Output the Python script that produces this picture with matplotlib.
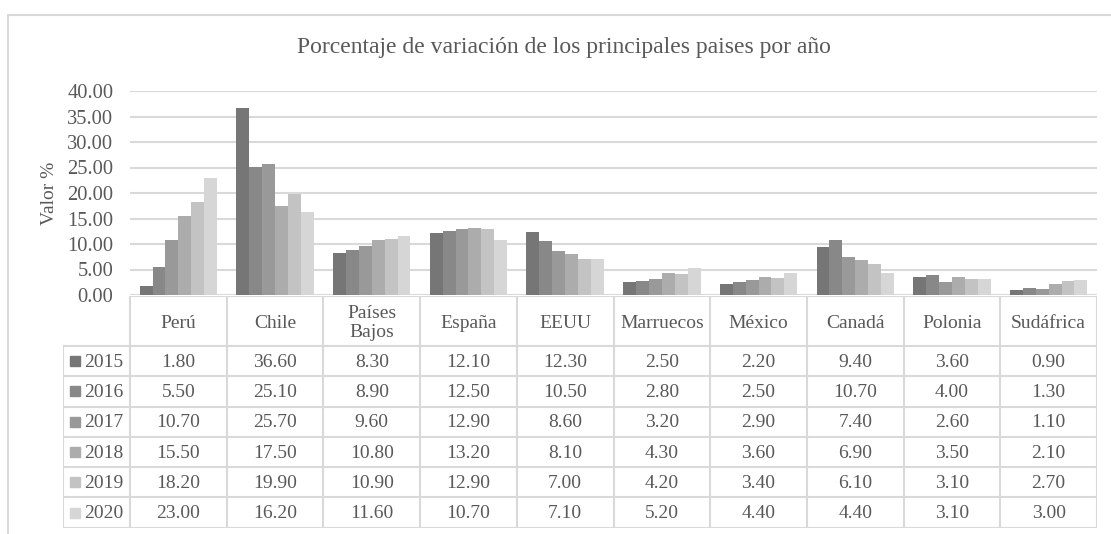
import numpy as np
import matplotlib
matplotlib.use("Agg")
import matplotlib.pyplot as plt
from matplotlib.patches import Rectangle

# data
paises = ["Perú", "Chile", "Países\nBajos", "España", "EEUU", "Marruecos",
          "México", "Canadá", "Polonia", "Sudáfrica"]
anios = ["2015", "2016", "2017", "2018", "2019", "2020"]
v2015 = [1.80, 36.60, 8.30, 12.10, 12.30, 2.50, 2.20, 9.40, 3.60, 0.90]
v2016 = [5.50, 25.10, 8.90, 12.50, 10.50, 2.80, 2.50, 10.70, 4.00, 1.30]
v2017 = [10.70, 25.70, 9.60, 12.90, 8.60, 3.20, 2.90, 7.40, 2.60, 1.10]
v2018 = [15.50, 17.50, 10.80, 13.20, 8.10, 4.30, 3.60, 6.90, 3.50, 2.10]
v2019 = [18.20, 19.90, 10.90, 12.90, 7.00, 4.20, 3.40, 6.10, 3.10, 2.70]
v2020 = [23.00, 16.20, 11.60, 10.70, 7.10, 5.20, 4.40, 4.40, 3.10, 3.00]
yticks = [0, 5, 10, 15, 20, 25, 30, 35, 40]

series = [v2015, v2016, v2017, v2018, v2019, v2020]
colores = ["#767676", "#888888", "#999999", "#acacac", "#c3c3c3", "#d6d6d6"]
txt = "#595959"
grid = "#d9d9d9"

plt.rcParams['font.family'] = ['Liberation Serif', 'DejaVu Serif']

W, H = 1111, 534
fig = plt.figure(figsize=(W / 100, H / 100), dpi=100)

def px(x0, y0, x1, y1):
    # pixel box (top-left origin) -> figure fraction
    return [x0 / W, 1 - y1 / H, (x1 - x0) / W, (y1 - y0) / H]

# outer border
fig.patches.append(Rectangle((8 / W, -0.1), 1.2, 1 - 15 / H + 0.1, transform=fig.transFigure,
                             fill=False, edgecolor=grid, lw=1.5))

fig.text(564 / W, 1 - 48 / H, "Porcentaje de variación de los principales paises por año",
         ha="center", va="center", fontsize=17, color=txt)

# bar chart
ax = fig.add_axes(px(130, 91, 1097, 295))
n = len(paises)
x = np.arange(n)
bw = 0.8 / len(series)
for i, vals in enumerate(series):
    ax.bar(x - 0.4 + bw * (i + 0.5), vals, width=bw, color=colores[i], zorder=3)
ax.set_xlim(-0.5, n - 0.5)
ax.set_ylim(0, 40)
ax.set_yticks(yticks)
ax.set_yticklabels(["%.2f" % t for t in yticks])
ax.tick_params(axis="y", length=0, labelsize=14.8, labelcolor=txt, pad=12)
ax.set_xticks([])
ax.grid(axis="y", color=grid, lw=1.5, zorder=0)
for s in ax.spines.values():
    s.set_visible(False)
fig.text(49 / W, 1 - 193 / H, "Valor %", rotation=90, ha="center", va="center",
         fontsize=14, color=txt)

# data table below the plot
leg_w = 67 / 96.7
head_h = 50
row_h = 30.3
tab_h = head_h + row_h * len(anios)
tx = fig.add_axes(px(63, 296, 1097, 296 + tab_h))
tx.set_xlim(-0.5 - leg_w, n - 0.5)
tx.set_ylim(tab_h, 0)
tx.axis("off")

lk = dict(color=grid, lw=1.5, solid_capstyle="butt")
tx.plot([-0.5, n - 0.5], [0, 0], **lk)
for k in range(n + 1):
    tx.plot([k - 0.5, k - 0.5], [0, tab_h], **lk)
for r in range(len(anios) + 1):
    yy = head_h + r * row_h
    tx.plot([-0.5 - leg_w, n - 0.5], [yy, yy], **lk)
tx.plot([-0.5 - leg_w, -0.5 - leg_w], [head_h, tab_h], **lk)

for k, p in enumerate(paises):
    tx.text(k, head_h / 2 + 2, p, ha="center", va="center", fontsize=14,
            color=txt, linespacing=1.2)
for r, (a, vals) in enumerate(zip(anios, series)):
    yc = head_h + (r + 0.5) * row_h
    tx.plot(-0.5 - leg_w + 0.12, yc, marker="s", ms=6.5, color=colores[r], ls="none")
    tx.text(-0.5 - leg_w + 0.22, yc + 1, a, ha="left", va="center", fontsize=14, color=txt)
    for k, v in enumerate(vals):
        tx.text(k, yc + 1, "%.2f" % v, ha="center", va="center", fontsize=14, color=txt)

fig.savefig("out.png", dpi=100)
